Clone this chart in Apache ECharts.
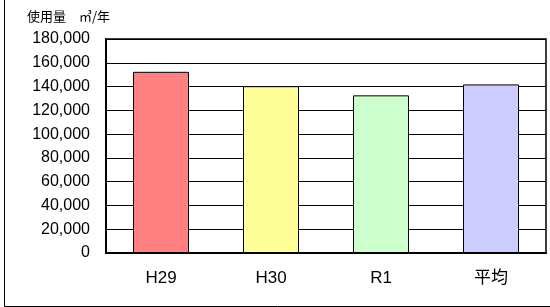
<!DOCTYPE html>
<html lang="ja">

<head>
  <meta charset="UTF-8">
  <title>使用量</title>
  <script src="https://cdn.jsdelivr.net/npm/echarts@6.0.0/dist/echarts.min.js"></script>
  <style>
    html, body { margin: 0; padding: 0; background: #fff; }
    #main { width: 550px; height: 307px; }
  </style>
</head>

<body>
  <div id="main"></div>
  <script>
    let years = ['H29', 'H30', 'R1', '平均'];
    let usage = [152400, 140300, 132600, 141800];
    let barColors = ['#FF8080', '#FFFF99', '#CCFFCC', '#CCCCFF'];
    let yTicks = { min: 0, max: 180000, step: 20000 };
    let unitLabel = '使用量　㎥/年';

    let font = '"Liberation Sans", Arial, "Noto Sans CJK JP", sans-serif';

    let chart = echarts.init(document.getElementById('main'));
    let option = {
      animation: false,
      textStyle: { fontFamily: font },
      title: {
        text: unitLabel,
        left: 22,
        top: 5,
        textStyle: { fontSize: 13, fontWeight: 'normal', color: '#000', fontFamily: '"Noto Sans CJK JP", sans-serif' }
      },
      // outer frame, top and right edges fall outside the canvas
      graphic: [{
        type: 'rect',
        shape: { x: 4.5, y: -10, width: 600, height: 316.5 },
        style: { fill: 'none', stroke: '#000', lineWidth: 1 },
        silent: true
      }],
      grid: {
        left: 106, right: 4, top: 39, bottom: 54,
        show: true, borderColor: '#000', borderWidth: 1.5
      },
      xAxis: {
        type: 'category',
        data: years,
        axisLine: { lineStyle: { color: '#000', width: 2 } },
        axisTick: { inside: true, length: 5, lineStyle: { color: '#000' } },
        axisLabel: {
          color: '#000', fontSize: 17, margin: 17,
          fontFamily: font
        }
      },
      yAxis: {
        type: 'value',
        min: yTicks.min,
        max: yTicks.max,
        interval: yTicks.step,
        axisLine: { show: true, lineStyle: { color: '#000', width: 2 } },
        axisTick: { show: false },
        splitLine: { lineStyle: { color: '#000', width: 1 } },
        axisLabel: {
          color: '#000', fontSize: 16, margin: 16,
          formatter: v => v.toLocaleString('en-US')
        }
      },
      series: [{
        type: 'bar',
        barWidth: 56,
        data: usage.map((v, i) => ({
          value: v,
          itemStyle: { color: barColors[i] }
        })),
        itemStyle: { borderColor: '#000', borderWidth: 1 }
      }]
    };

    chart.setOption(option);
  </script>
</body>

</html>
